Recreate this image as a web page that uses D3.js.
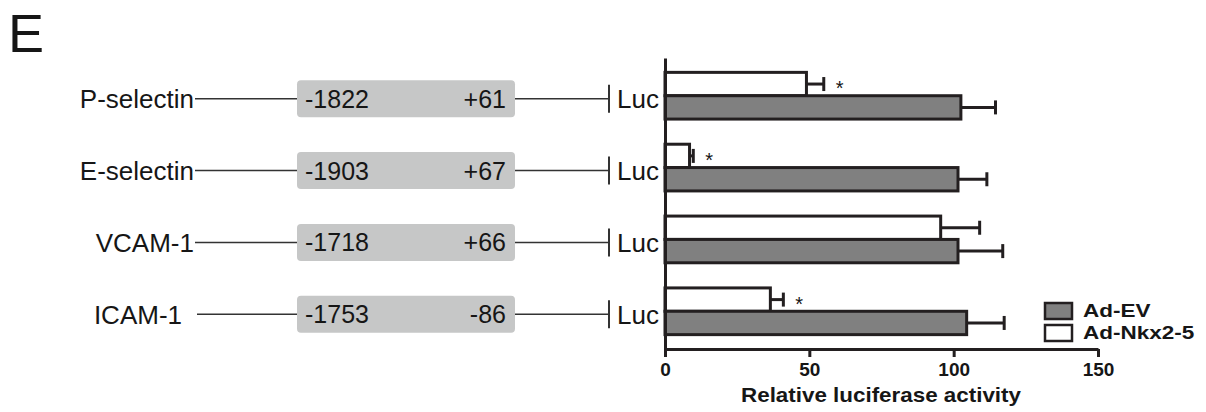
<!DOCTYPE html>
<html lang="en">
<head>
<meta charset="UTF-8">
<title>Luciferase</title>
<script src="https://d3js.org/d3.v7.min.js"></script>
<style>
  body { margin: 0; background: #fff; }
  text { font-family: Arial, "Liberation Sans", sans-serif; fill: #161616; }
</style>
</head>
<body>
<svg id="chart" width="1206" height="412"></svg>
<script>
    // data
    const genes = ['P-selectin', 'E-selectin', 'VCAM-1', 'ICAM-1'];
    const promStart = ['-1822', '-1903', '-1718', '-1753'];
    const promEnd = ['+61', '+67', '+66', '-86'];
    const series = ['Ad-Nkx2-5', 'Ad-EV'];
    const nkxValues = [49, 8.5, 95.5, 36.5];
    const nkxErrors = [6, 1.3, 13.5, 4.5];
    const evValues = [102.5, 101.5, 101.5, 104.5];
    const evErrors = [12, 10, 15.5, 13];
    const significant = [true, true, false, true];
    const xTicks = [0, 50, 100, 150];

    const ink = '#231f20';
    const svg = d3.select('#chart');

    const x = d3.scaleLinear().domain([0, 150]).range([665, 1098]);
    const y = d3.scaleBand().domain(genes).range([58, 349])
        .paddingInner(0.35).paddingOuter(0.2);
    const ySub = d3.scaleBand().domain(series).range([0, y.bandwidth()]);

    // panel letter
    svg.append('text').attr('x', 8).attr('y', 52)
        .style('font-size', '54px').text('E');

    // promoter constructs on the left
    const rows = svg.append('g').selectAll('g').data(genes).join('g')
        .attr('transform', d => `translate(0,${y(d) + y.bandwidth() / 2 + 3})`);

    rows.append('text')
        .attr('x', (d, i) => i === 3 ? 182 : 194).attr('dy', '0.36em')
        .attr('text-anchor', 'end').style('font-size', '26px')
        .text(d => d);
    rows.append('line')
        .attr('x1', (d, i) => i === 3 ? 197 : 195).attr('x2', 297)
        .attr('stroke', '#333').attr('stroke-width', 1.5);
    rows.append('rect')
        .attr('x', 297).attr('y', -18.5).attr('width', 218).attr('height', 37)
        .attr('rx', 4).attr('fill', '#c6c7c7');
    rows.append('text')
        .attr('x', 305).attr('dy', '0.36em').style('font-size', '25px')
        .text((d, i) => promStart[i]);
    rows.append('text')
        .attr('x', 506).attr('dy', '0.36em').attr('text-anchor', 'end')
        .style('font-size', '25px')
        .text((d, i) => promEnd[i]);
    rows.append('line')
        .attr('x1', 515).attr('x2', 609)
        .attr('stroke', '#333').attr('stroke-width', 1.5);
    rows.append('line')
        .attr('x1', 609).attr('x2', 609).attr('y1', -14).attr('y2', 14)
        .attr('stroke', '#333').attr('stroke-width', 2);
    rows.append('text')
        .attr('x', 617).attr('dy', '0.36em').style('font-size', '26px')
        .text('Luc');

    // bars
    const table = genes.map((g, i) => ({
        gene: g,
        bars: [
            { key: 'Ad-Nkx2-5', v: nkxValues[i], e: nkxErrors[i], fill: '#fff', star: significant[i] },
            { key: 'Ad-EV', v: evValues[i], e: evErrors[i], fill: '#808080', star: false }
        ]
    }));

    const groups = svg.append('g').selectAll('g').data(table).join('g')
        .attr('transform', d => `translate(0,${y(d.gene)})`);

    const bar = groups.selectAll('g').data(d => d.bars).join('g')
        .attr('transform', d => `translate(0,${ySub(d.key)})`);

    const h = ySub.bandwidth();
    // error bars first so the bar outline sits on top
    bar.append('line')
        .attr('x1', d => x(d.v)).attr('x2', d => x(d.v + d.e))
        .attr('y1', h / 2).attr('y2', h / 2)
        .attr('stroke', ink).attr('stroke-width', 3);
    bar.append('line')
        .attr('x1', d => x(d.v + d.e)).attr('x2', d => x(d.v + d.e))
        .attr('y1', h / 2 - 7).attr('y2', h / 2 + 7)
        .attr('stroke', ink).attr('stroke-width', 3);
    bar.append('rect')
        .attr('x', x(0)).attr('y', 0)
        .attr('width', d => x(d.v) - x(0)).attr('height', h)
        .attr('fill', d => d.fill).attr('stroke', ink).attr('stroke-width', 3);
    bar.filter(d => d.star).append('text')
        .attr('x', d => x(d.v + d.e) + 12).attr('y', h / 2 + 11)
        .style('font-size', '20px').text('*');

    // axes
    const xAxis = svg.append('g').attr('transform', 'translate(0,349)')
        .call(d3.axisBottom(x).tickValues(xTicks).tickSize(8).tickSizeOuter(0).tickPadding(6));
    xAxis.select('.domain').attr('stroke', ink).attr('stroke-width', 3);
    xAxis.selectAll('.tick line').attr('stroke', ink).attr('stroke-width', 3);
    xAxis.selectAll('.tick text')
        .style('font-size', '19px').style('font-weight', 'bold')
        .attr('fill', '#161616')
        .style('font-family', 'Arial, "Liberation Sans", sans-serif');

    const yAxis = svg.append('g').attr('transform', `translate(${x(0)},0)`)
        .call(d3.axisLeft(y).tickSize(0).tickSizeOuter(0).tickFormat(''));
    yAxis.select('.domain').attr('stroke', ink).attr('stroke-width', 3);

    svg.append('text')
        .attr('transform', 'translate(881,402) scale(1.12,1)')
        .attr('text-anchor', 'middle')
        .style('font-size', '20px').style('font-weight', 'bold')
        .text('Relative luciferase activity');

    // legend
    const legend = svg.append('g').attr('transform', 'translate(1045,303)')
        .selectAll('g').data([['Ad-EV', '#808080'], ['Ad-Nkx2-5', '#fff']]).join('g')
        .attr('transform', (d, i) => `translate(0,${i * 22})`);
    legend.append('rect')
        .attr('width', 27).attr('height', 16)
        .attr('fill', d => d[1]).attr('stroke', ink).attr('stroke-width', 2.5);
    legend.append('text')
        .attr('transform', 'translate(38,14) scale(1.25,1)')
        .style('font-size', '18px').style('font-weight', 'bold')
        .text(d => d[0]);
</script>
</body>
</html>
